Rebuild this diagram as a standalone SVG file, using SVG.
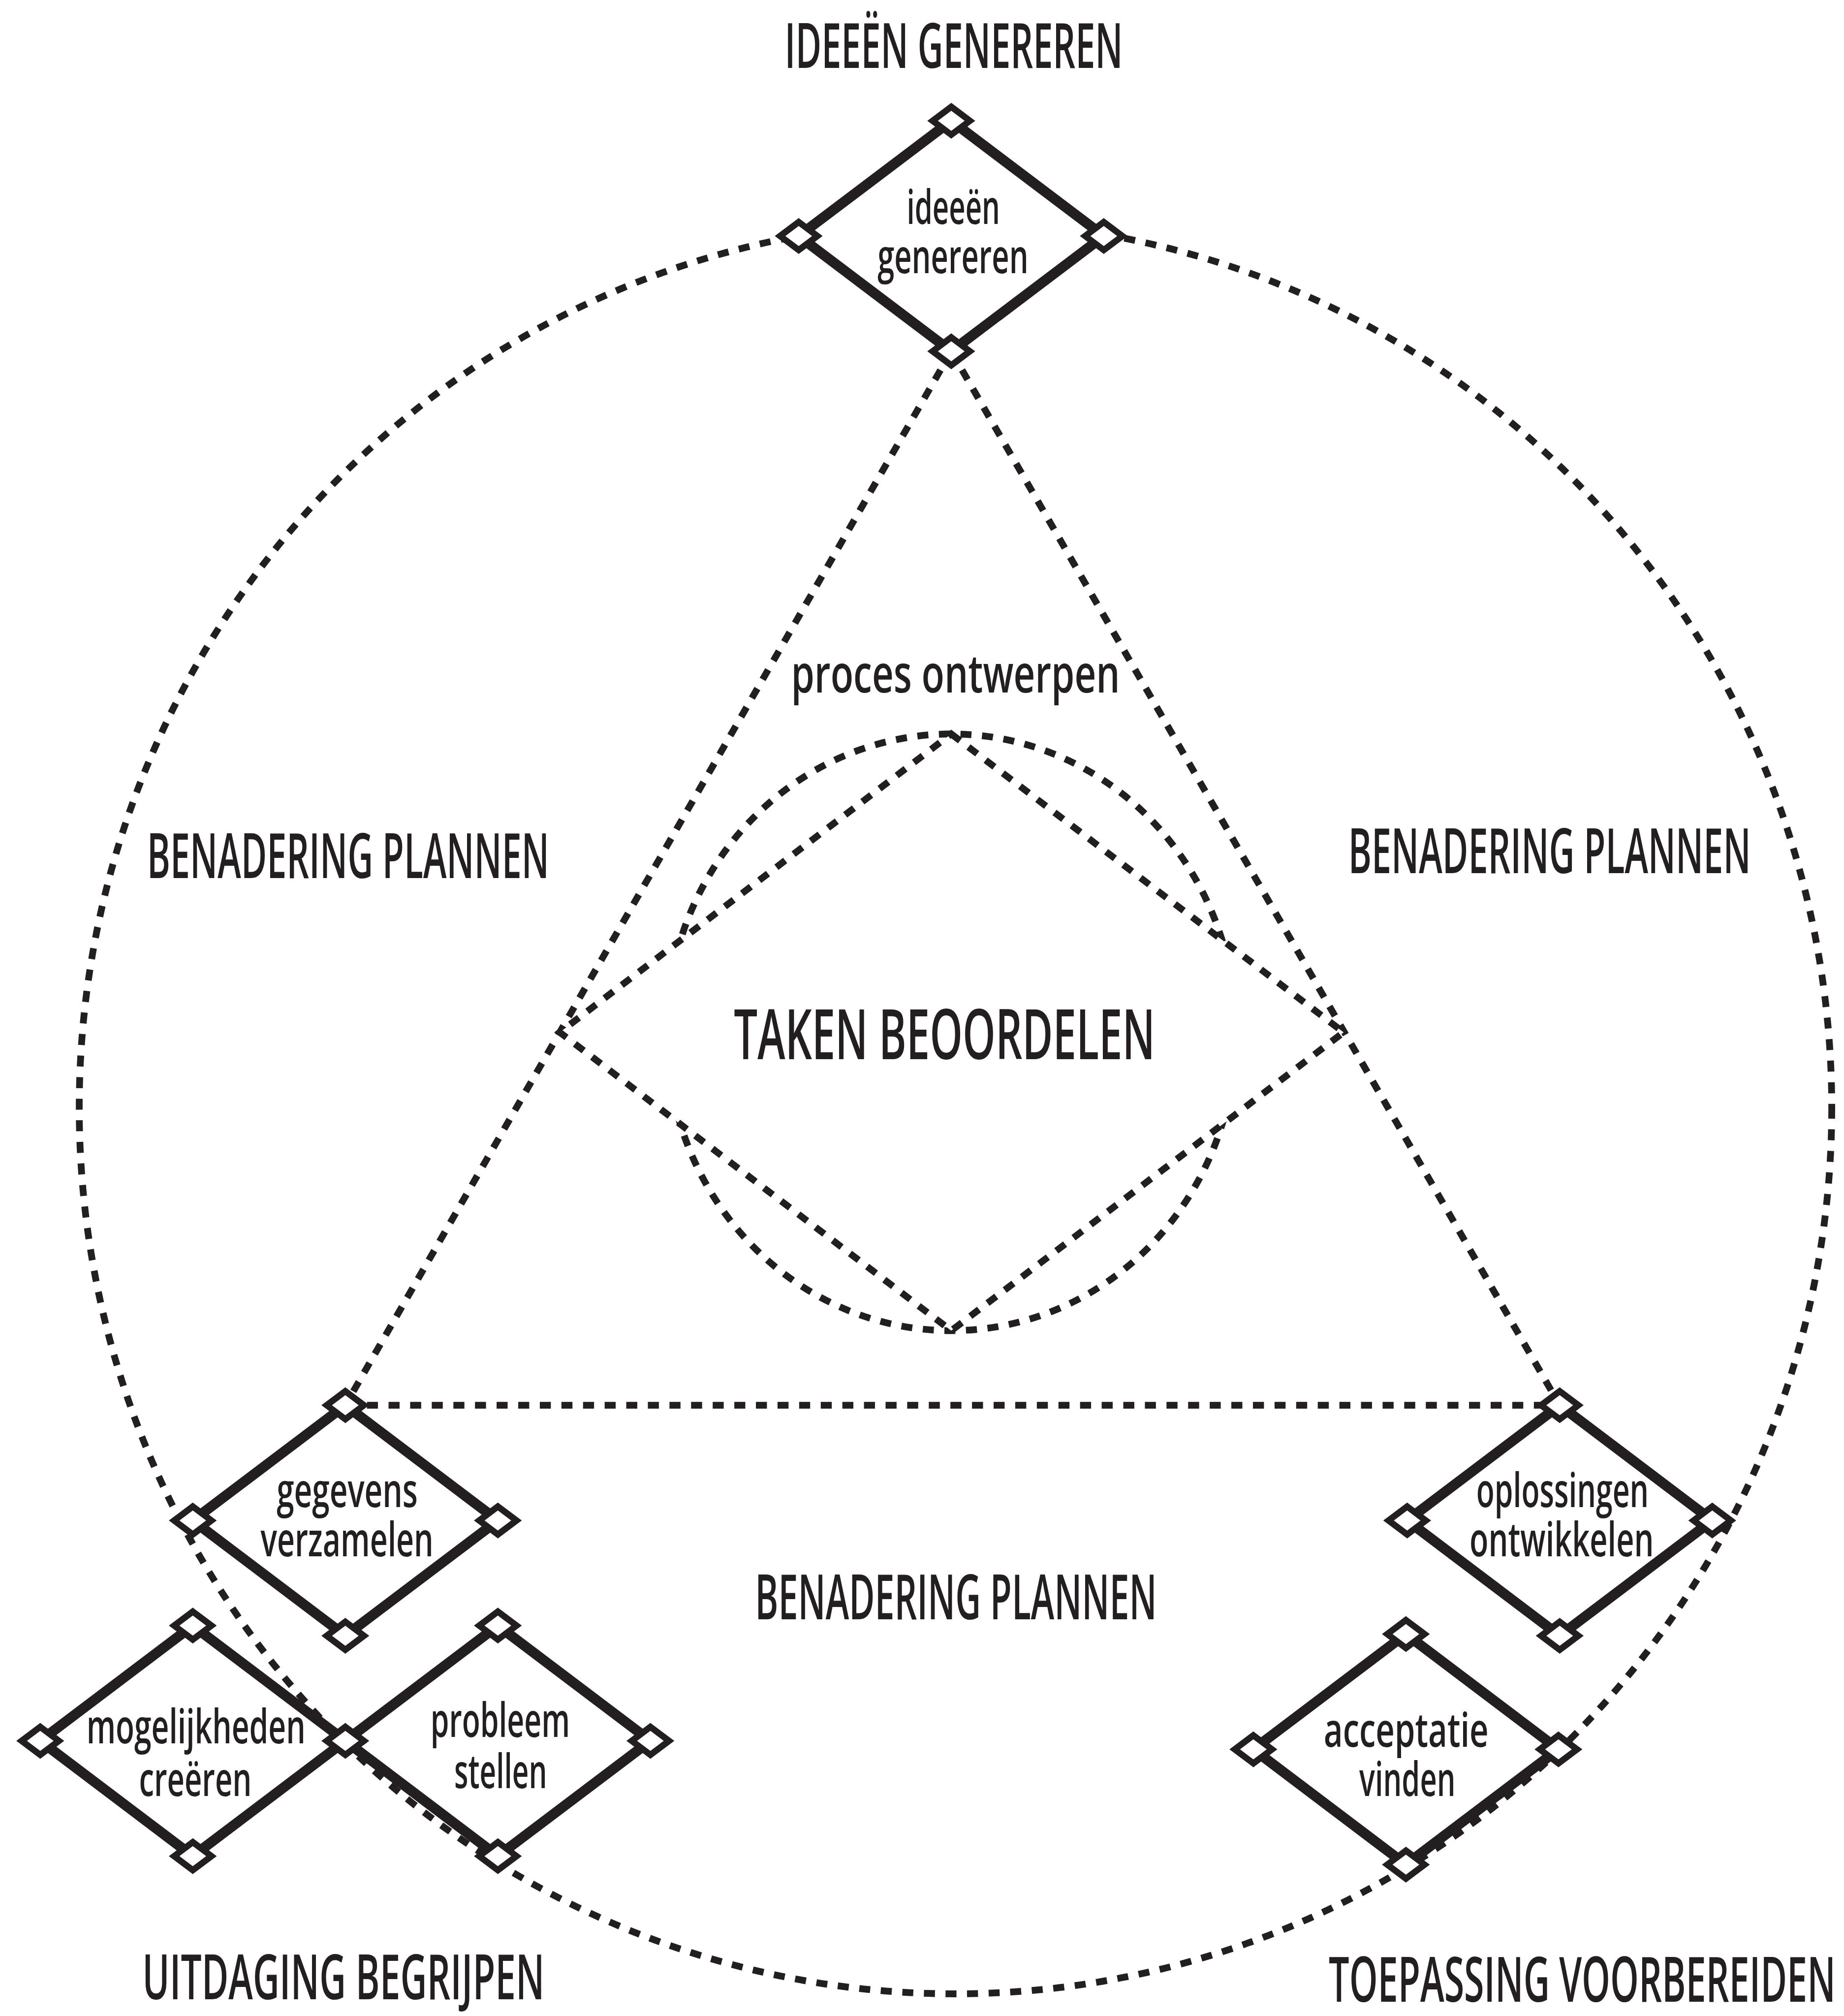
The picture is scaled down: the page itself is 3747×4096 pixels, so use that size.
<svg xmlns="http://www.w3.org/2000/svg" xmlns:xlink="http://www.w3.org/1999/xlink" width="3747" height="4096" viewBox="0 0 3747 4096">
<defs>
<style>
.dot{fill:none;stroke:#231f20;stroke-width:16;stroke-dasharray:26 25}
.dotw{fill:#fff;stroke:#231f20;stroke-width:16;stroke-dasharray:26 25}
.main{fill:#fff;stroke:#231f20;stroke-width:24;stroke-linejoin:miter}
.knob{fill:#fff;stroke:#231f20;stroke-width:15;stroke-linejoin:miter}
text{font-family:"Open Sans","Noto Sans","DejaVu Sans",sans-serif;font-weight:600;fill:#231f20}
.cap{font-size:147px}
.big{font-size:165px}
.lab{font-size:112px}
.mid{font-size:125px}
</style>
<path id="k" d="M0,-33 L44,0 L0,33 L-44,0 Z"/>
</defs>
<rect x="0" y="0" width="3747" height="4096" fill="#fff"/>
<g transform="scale(0.861)">
<g id="connectors">
<ellipse class="dot" cx="2255" cy="2614" rx="2068" ry="2091"/>
<path class="dot" d="M2245,829 L815,3316"/>
<path class="dot" d="M2245,829 L3681,3316"/>
<path class="dot" d="M815,3316 L3681,3316"/>
</g>
<g id="taken-beoordelen">
<ellipse class="dot" cx="2245" cy="2436" rx="672" ry="704"/>
<path class="dotw" d="M2245,1732 L3171,2436 L2245,3140 L1321,2436 Z"/>
<text class="big" x="1732" y="2499" textLength="994" lengthAdjust="spacingAndGlyphs">TAKEN BEOORDELEN</text>
</g>
<g id="labels">
<text class="cap" x="1852" y="160" textLength="798" lengthAdjust="spacingAndGlyphs">IDEEËN GENEREREN</text>
<text class="mid" x="1867" y="1634" textLength="776" lengthAdjust="spacingAndGlyphs">proces ontwerpen</text>
<text class="cap" x="347" y="2072" textLength="949" lengthAdjust="spacingAndGlyphs">BENADERING PLANNEN</text>
<text class="cap" x="3182" y="2060" textLength="950" lengthAdjust="spacingAndGlyphs">BENADERING PLANNEN</text>
<text class="cap" x="1782" y="3821" textLength="948" lengthAdjust="spacingAndGlyphs">BENADERING PLANNEN</text>
<text class="cap" x="336" y="4718" textLength="949" lengthAdjust="spacingAndGlyphs">UITDAGING BEGRIJPEN</text>
<text class="cap" x="3136" y="4724" textLength="1196" lengthAdjust="spacingAndGlyphs">TOEPASSING VOORBEREIDEN</text>
</g>
<g id="ideeen-genereren">
<path class="main" d="M2245,285 L2605,557 L2245,829 L1885,557 Z"/>
<use xlink:href="#k" class="knob" x="2245" y="285"/>
<use xlink:href="#k" class="knob" x="2605" y="557"/>
<use xlink:href="#k" class="knob" x="2245" y="829"/>
<use xlink:href="#k" class="knob" x="1885" y="557"/>
<text class="lab" x="2140" y="529" textLength="220" lengthAdjust="spacingAndGlyphs">ideeën</text>
<text class="lab" x="2071" y="645" textLength="356" lengthAdjust="spacingAndGlyphs">genereren</text>
</g>
<g id="gegevens-verzamelen">
<path class="main" d="M815,3316 L1175,3588 L815,3860 L455,3588 Z"/>
<use xlink:href="#k" class="knob" x="815" y="3316"/>
<use xlink:href="#k" class="knob" x="1175" y="3588"/>
<use xlink:href="#k" class="knob" x="815" y="3860"/>
<use xlink:href="#k" class="knob" x="455" y="3588"/>
<text class="lab" x="653" y="3556" textLength="333" lengthAdjust="spacingAndGlyphs">gegevens</text>
<text class="lab" x="615" y="3672" textLength="408" lengthAdjust="spacingAndGlyphs">verzamelen</text>
</g>
<g id="mogelijkheden-creeren">
<path class="main" d="M455,3836 L815,4108 L455,4380 L95,4108 Z"/>
<use xlink:href="#k" class="knob" x="455" y="3836"/>
<use xlink:href="#k" class="knob" x="455" y="4380"/>
<use xlink:href="#k" class="knob" x="95" y="4108"/>
<text class="lab" x="204" y="4114" textLength="517" lengthAdjust="spacingAndGlyphs">mogelijkheden</text>
<text class="lab" x="328" y="4238" textLength="266" lengthAdjust="spacingAndGlyphs">creëren</text>
</g>
<g id="probleem-stellen">
<path class="main" d="M1175,3836 L1535,4108 L1175,4380 L815,4108 Z"/>
<use xlink:href="#k" class="knob" x="1175" y="3836"/>
<use xlink:href="#k" class="knob" x="1535" y="4108"/>
<use xlink:href="#k" class="knob" x="1175" y="4380"/>
<use xlink:href="#k" class="knob" x="815" y="4108"/>
<text class="lab" x="1016" y="4099" textLength="329" lengthAdjust="spacingAndGlyphs">probleem</text>
<text class="lab" x="1072" y="4219" textLength="219" lengthAdjust="spacingAndGlyphs">stellen</text>
</g>
<g id="oplossingen-ontwikkelen">
<path class="main" d="M3681,3316 L4041,3588 L3681,3860 L3321,3588 Z"/>
<use xlink:href="#k" class="knob" x="3681" y="3316"/>
<use xlink:href="#k" class="knob" x="4041" y="3588"/>
<use xlink:href="#k" class="knob" x="3681" y="3860"/>
<use xlink:href="#k" class="knob" x="3321" y="3588"/>
<text class="lab" x="3484" y="3556" textLength="407" lengthAdjust="spacingAndGlyphs">oplossingen</text>
<text class="lab" x="3468" y="3672" textLength="435" lengthAdjust="spacingAndGlyphs">ontwikkelen</text>
</g>
<g id="acceptatie-vinden">
<path class="main" d="M3318,3856 L3678,4128 L3318,4400 L2958,4128 Z"/>
<use xlink:href="#k" class="knob" x="3318" y="3856"/>
<use xlink:href="#k" class="knob" x="3678" y="4128"/>
<use xlink:href="#k" class="knob" x="3318" y="4400"/>
<use xlink:href="#k" class="knob" x="2958" y="4128"/>
<text class="lab" x="3124" y="4122" textLength="389" lengthAdjust="spacingAndGlyphs">acceptatie</text>
<text class="lab" x="3208" y="4238" textLength="227" lengthAdjust="spacingAndGlyphs">vinden</text>
</g>
</g>
</svg>
